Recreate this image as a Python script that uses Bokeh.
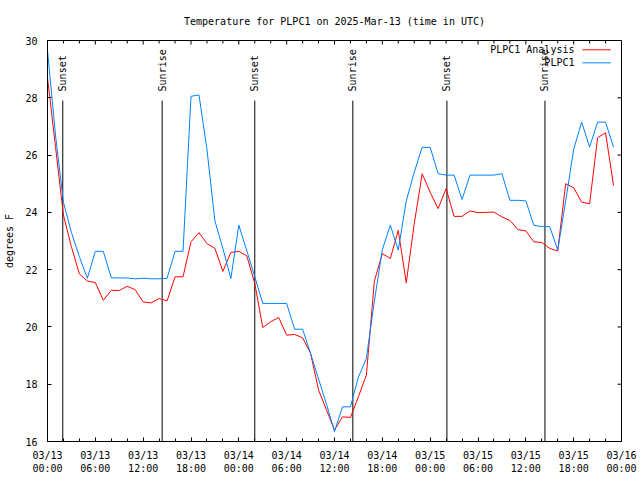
import pandas as pd
from bokeh.plotting import figure
from bokeh.models import Range1d, FixedTicker, DatetimeTickFormatter, ColumnDataSource
from bokeh.core.properties import value
from bokeh.embed import file_html
from bokeh.resources import INLINE

FONT = "DejaVu Sans Mono"

start = pd.Timestamp("2025-03-13 00:00")
times = pd.date_range(start, periods=72, freq="h")

plpc1 = [29.65, 26.7, 24.35, 23.3, 22.45, 21.7, 22.64, 22.64, 21.71, 21.71,
         21.71, 21.68, 21.7, 21.68, 21.68, 21.7, 22.64, 22.64, 28.05, 28.1,
         26.2, 23.7, 22.74, 21.69, 23.55, 22.66, 21.75, 20.82, 20.82, 20.82,
         20.82, 19.92, 19.92, 19.07, 18.18, 17.3, 16.35, 17.21, 17.21, 18.25,
         18.9, 20.9, 22.7, 23.55, 22.68, 24.4, 25.4, 26.27, 26.27, 25.35,
         25.3, 25.3, 24.45, 25.3, 25.3, 25.3, 25.3, 25.35, 24.42, 24.42,
         24.4, 23.55, 23.5, 23.5, 22.68, 24.4, 26.2, 27.15, 26.28, 27.15,
         27.15, 26.28]

analysis = [28.7, 26.3, 23.9, 22.8, 21.85, 21.6, 21.55, 20.93, 21.28, 21.27,
            21.42, 21.3, 20.87, 20.84, 20.99, 20.91, 21.75, 21.75, 22.97, 23.29,
            22.91, 22.74, 21.94, 22.6, 22.64, 22.48, 21.52, 19.98, 20.18, 20.33,
            19.71, 19.74, 19.62, 19.08, 17.8, 17.1, 16.4, 16.86, 16.84, 17.56,
            18.32, 21.6, 22.56, 22.39, 23.37, 21.54, 23.6, 25.35, 24.7, 24.13,
            24.83, 23.86, 23.86, 24.05, 23.99, 24.0, 24.01, 23.84, 23.72, 23.4,
            23.35, 22.97, 22.95, 22.74, 22.65, 25.0, 24.86, 24.36, 24.3, 26.6,
            26.78, 24.94]

event_times = ["2025-03-13 01:55", "2025-03-13 14:23", "2025-03-14 02:00",
               "2025-03-14 14:18", "2025-03-15 02:06", "2025-03-15 14:24"]
event_labels = ["Sunset", "Sunrise", "Sunset", "Sunrise", "Sunset", "Sunrise"]

series_names = ["PLPC1 Analysis", "PLPC1"]
series_colors = ["#ff0000", "#0080ff"]

y_min, y_max = 16, 30
y_ticks = [16, 18, 20, 22, 24, 26, 28, 30]
x_major_hours = list(range(0, 73, 6))
x_minor_hours = list(range(0, 73, 2))

x0 = start
x1 = start + pd.Timedelta(hours=72)


def xt(h):
    return start + pd.Timedelta(hours=h)


def ms(t):
    return (pd.Timestamp(t) - pd.Timestamp("1970-01-01")) / pd.Timedelta(milliseconds=1)


major_x = [ms(xt(h)) for h in x_major_hours]
minor_x = [ms(xt(h)) for h in x_minor_hours]

p = figure(width=640, height=480, output_backend="svg", toolbar_location=None,
           x_axis_type="datetime",
           x_range=Range1d(x0, x1), y_range=Range1d(y_min, y_max),
           min_border_left=47, min_border_right=19, min_border_top=40,
           min_border_bottom=39)

p.title.text = "Temperature for PLPC1 on 2025-Mar-13 (time in UTC)"
p.title.align = "center"
p.title.text_font = FONT
p.title.text_font_size = "10px"
p.title.text_font_style = "normal"
p.title.text_color = "black"
p.title.standoff = 27

p.grid.visible = False
p.outline_line_color = "black"
p.outline_line_width = 1
p.background_fill_color = "white"
p.border_fill_color = "white"

fmt = "%m/%d\n%H:%M"
xfmt = DatetimeTickFormatter(hours=fmt, days=fmt, hourmin=fmt, minutes=fmt,
                             months=fmt, years=fmt, seconds=fmt, minsec=fmt,
                             milliseconds=fmt, microseconds=fmt)


def style_axis(ax):
    ax.major_tick_in = 4
    ax.major_tick_out = 0
    ax.minor_tick_in = 3
    ax.minor_tick_out = 0
    ax.axis_line_color = "black"
    ax.major_tick_line_color = "black"
    ax.minor_tick_line_color = "black"
    ax.major_label_text_font = FONT
    ax.major_label_text_font_size = "10px"
    ax.major_label_text_color = "black"
    ax.axis_label_text_font = FONT
    ax.axis_label_text_font_size = "10px"
    ax.axis_label_text_font_style = "normal"
    ax.axis_label_text_color = "black"


xa = p.xaxis[0]
xa.ticker = FixedTicker(ticks=major_x, minor_ticks=minor_x)
xa.formatter = xfmt
style_axis(xa)
xa.major_label_standoff = 8

ya = p.yaxis[0]
ya.ticker = FixedTicker(ticks=y_ticks)
style_axis(ya)
ya.minor_tick_in = 0
ya.axis_label = "degrees F"
ya.major_label_standoff = 10
ya.axis_label_standoff = 7

# mirrored ticks on the top and right edges (drawn through the scales)
tick_dy = 4 / 28.64          # ~4 px in y data units
tick_dx_h = 4 / 7.97         # ~4 px in hours
top_src = ColumnDataSource(dict(t=[xt(h) for h in x_minor_hours],
                                y0=[y_max] * len(x_minor_hours),
                                y1=[y_max - (tick_dy if h % 6 == 0 else tick_dy * 0.75)
                                    for h in x_minor_hours]))
p.segment(x0="t", y0="y0", x1="t", y1="y1", source=top_src, line_color="black",
          line_width=1)
right_src = ColumnDataSource(dict(xa=[x1] * len(y_ticks),
                                  xb=[xt(72 - tick_dx_h)] * len(y_ticks),
                                  y=y_ticks))
p.segment(x0="xa", y0="y", x1="xb", y1="y", source=right_src, line_color="black",
          line_width=1)

# event lines and labels
ev = ColumnDataSource(dict(t=pd.to_datetime(event_times), label=event_labels,
                           y0=[y_min] * 6,
                           y1=[y_min + 0.85 * (y_max - y_min)] * 6,
                           yl=[y_min + 0.873 * (y_max - y_min)] * 6))
p.segment(x0="t", y0="y0", x1="t", y1="y1", source=ev, line_color="black", line_width=1)
p.text(x="t", y="yl", text="label", source=ev, angle=1.5708, text_align="left",
       text_baseline="middle", text_font=value(FONT), text_font_size="10px",
       text_color="black")

# series
src = ColumnDataSource(dict(t=times, a=analysis, o=plpc1))
p.line(x="t", y="a", source=src, line_color=series_colors[0], line_width=1)
p.line(x="t", y="o", source=src, line_color=series_colors[1], line_width=1)

# legend (gnuplot style: text then sample)
leg_y = [29.675, 29.22]
leg = ColumnDataSource(dict(x=[xt(66.1)] * 2, y=leg_y, name=series_names,
                            xs0=[xt(67.1)] * 2, xs1=[xt(70.65)] * 2,
                            color=series_colors))
p.text(x="x", y="y", text="name", source=leg, text_align="right",
       text_baseline="middle", text_font=value(FONT), text_font_size="10px",
       text_color="black")
p.segment(x0="xs0", y0="y", x1="xs1", y1="y", source=leg, line_color="color",
          line_width=1)

open("out.html", "w").write(file_html(p, INLINE))
